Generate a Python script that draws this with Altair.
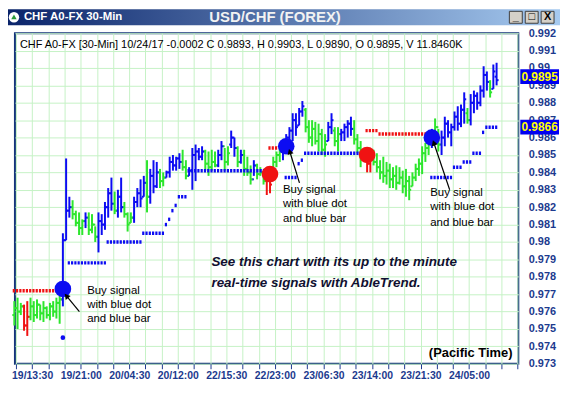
import math
import pandas as pd
import altair as alt

# ---------------- data ----------------
FIRST_BAR = -5
tick_labels = ["19/13:30", "19/21:00", "20/04:30", "20/12:00", "22/15:30",
               "22/23:00", "23/06:30", "23/14:00", "23/21:30", "24/05:00"]
y_ticks = [0.973, 0.974, 0.975, 0.976, 0.977, 0.978, 0.979, 0.98, 0.981, 0.982,
           0.983, 0.984, 0.985, 0.986, 0.987, 0.988, 0.989, 0.99, 0.991, 0.992]

highs = [.9766, .9768, .9765, .9764, .9766, .9768, .9766, .9767, .9764, .9766,
         .9763, .9765, .9766, .9768, .9769, .9805, .9848, .9826, .9824, .9818,
         .9817, .9813, .9817, .9817, .9816, .9809, .9817, .9816, .9823, .9831,
         .9837, .9829, .9830, .9837, .9823, .9817, .9817, .9826, .9831, .9836,
         .9838, .9847, .9842, .9847, .9846, .9842, .9840, .9841, .9849, .9850,
         .9849, .9851, .9853, .9847, .9843, .9854, .9856, .9854, .9855, .9853,
         .9852, .9853, .9852, .9853, .9858, .9854, .9855, .9864, .9860, .9855,
         .9853, .9853, .9849, .9844, .9847, .9845, .9843, .9840, .9843, .9838,
         .9849, .9852, .9855, .9858, .9862, .9866, .9874, .9874, .9877, .9881,
         .9877, .9870, .9870, .9869, .9868, .9865, .9862, .9869, .9874, .9866,
         .9866, .9865, .9868, .9870, .9872, .9870, .9862, .9858, .9854, .9853,
         .9852, .9853, .9851, .9847, .9849, .9846, .9845, .9843, .9844, .9843,
         .9841, .9842, .9838, .9840, .9845, .9848, .9855, .9857, .9863, .9865,
         .9871, .9865, .9864, .9872, .9870, .9868, .9875, .9878, .9879, .9886,
         .9877, .9885, .9887, .9886, .9890, .9901, .9898, .9893, .9902, .9903]

lows = [.9752, .9750, .9758, .9749, .9746, .9755, .9754, .9756, .9755, .9754,
        .9756, .9755, .9757, .9756, .9753, .9763, .9801, .9814, .9813, .9809,
        .9804, .9804, .9808, .9804, .9805, .9800, .9794, .9804, .9807, .9814,
        .9818, .9816, .9814, .9817, .9814, .9806, .9811, .9811, .9820, .9820,
        .9826, .9817, .9822, .9828, .9831, .9831, .9832, .9837, .9837, .9841,
        .9841, .9842, .9841, .9836, .9838, .9830, .9835, .9847, .9847, .9841,
        .9838, .9841, .9843, .9843, .9847, .9841, .9844, .9854, .9849, .9843,
        .9845, .9838, .9838, .9833, .9838, .9836, .9838, .9833, .9827, .9828,
        .9838, .9843, .9846, .9847, .9852, .9855, .9858, .9861, .9867, .9872,
        .9863, .9857, .9855, .9856, .9852, .9850, .9849, .9858, .9862, .9855,
        .9852, .9858, .9858, .9860, .9861, .9856, .9851, .9843, .9846, .9840,
        .9840, .9844, .9840, .9836, .9834, .9833, .9831, .9831, .9830, .9833,
        .9828, .9826, .9824, .9832, .9835, .9838, .9839, .9846, .9850, .9854,
        .9859, .9852, .9850, .9855, .9860, .9855, .9864, .9864, .9866, .9868,
        .9868, .9867, .9874, .9876, .9878, .9883, .9887, .9883, .9888, .9890]

opens = [.9758, .9762, .9760, .9763, .9752, .9757, .9763, .9758, .9764, .9759,
         .9762, .9758, .9763, .9760, .9765, .9767, .9801, .9818, .9820, .9816,
         .9811, .9808, .9812, .9814, .9807, .9810, .9803, .9812, .9810, .9820,
         .9828, .9822, .9818, .9826, .9820, .9816, .9811, .9814, .9823, .9828,
         .9826, .9834, .9826, .9838, .9832, .9840, .9835, .9837, .9840, .9846,
         .9844, .9848, .9846, .9843, .9838, .9841, .9850, .9852, .9849, .9852,
         .9845, .9843, .9846, .9844, .9850, .9855, .9846, .9856, .9860, .9854,
         .9846, .9850, .9842, .9840, .9836, .9844, .9839, .9840, .9835, .9838,
         .9838, .9846, .9850, .9853, .9856, .9860, .9864, .9870, .9867, .9875,
         .9876, .9866, .9860, .9865, .9858, .9862, .9853, .9858, .9866, .9864,
         .9858, .9862, .9863, .9866, .9868, .9865, .9859, .9854, .9848, .9851,
         .9845, .9849, .9846, .9843, .9840, .9838, .9841, .9836, .9838, .9834,
         .9837, .9832, .9835, .9832, .9837, .9842, .9845, .9851, .9854, .9858,
         .9862, .9866, .9856, .9860, .9868, .9863, .9866, .9872, .9868, .9876,
         .9874, .9870, .9880, .9884, .9880, .9887, .9896, .9892, .9888, .9895]

closes = [.9762, .9760, .9763, .9752, .9757, .9763, .9758, .9764, .9759, .9762,
          .9758, .9763, .9760, .9765, .9767, .9801, .9818, .9820, .9816, .9811,
          .9808, .9812, .9814, .9807, .9810, .9803, .9812, .9810, .9820, .9828,
          .9822, .9818, .9826, .9820, .9816, .9810, .9814, .9823, .9828, .9825,
          .9834, .9826, .9838, .9832, .9840, .9835, .9837, .9840, .9846, .9844,
          .9848, .9846, .9843, .9838, .9841, .9850, .9852, .9849, .9852, .9845,
          .9843, .9846, .9844, .9850, .9855, .9846, .9851, .9860, .9854, .9846,
          .9850, .9842, .9840, .9836, .9844, .9839, .9840, .9835, .9838, .9833,
          .9846, .9850, .9853, .9856, .9860, .9864, .9870, .9866, .9875, .9878,
          .9866, .9860, .9865, .9858, .9862, .9853, .9856, .9866, .9870, .9858,
          .9862, .9863, .9866, .9868, .9865, .9859, .9854, .9848, .9851, .9845,
          .9849, .9846, .9843, .9840, .9838, .9841, .9836, .9838, .9834, .9837,
          .9832, .9835, .9830, .9837, .9842, .9845, .9851, .9854, .9858, .9862,
          .9866, .9856, .9860, .9868, .9863, .9866, .9872, .9868, .9876, .9882,
          .9870, .9880, .9884, .9880, .9887, .9896, .9892, .9886, .9898, .9893]

bar_colors = list("GGGRRGGGGG" "GGGGGBBBGG" "GGBGGGBBBB" "BGBBGGGBBB" "BGBBBGGBBB"
                  "BBGGBBBBBG" "GGGBBGGBBG" "BGGGBGGGRR" "GGGBBBBBBB" "GGGGGGGBBG"
                  "GBBBBGGGRR" "RGGGGGGGGG" "GGGGGGGGGB" "GGBBBBBBBB" "GBBBBBBGBB")

# trend-stop dotted segments
seg_start = [12, 24, 35, 42, 43, 44, 45, 46, 49, 79, 83, 84, 85, 124, 131, 134, 137, 140, 141,
             -5, 74, 104, 108]
seg_end = [23, 34, 41, 42, 43, 44, 45, 48, 73, 82, 83, 84, 103, 130, 133, 136, 139, 140, 144,
           8, 76, 107, 122]
seg_level = [.9788, .9800, .9805, .9810, .9813, .9818, .9821, .9826, .9841, .9837, .9845, .9847,
             .9851, .9837, .9843, .9846, .9851, .9863, .9866,
             .9772, .9854, .9864, .9862]
seg_color = list("BBBBBBBBBBBBBBBBBBB" "RRRR")

# signal dots
sig_i = [10, 74, 79, 104, 124]
sig_price = [.9773, .9839, .9855, .9850, .9860]
sig_color = ["B", "R", "B", "R", "B"]
small_dot_i = [10]
small_dot_price = [.9745]

# highlighted price labels
flag_values = [0.9895, 0.9866]

# annotations
ann_lines = ["Buy signal", "with blue dot", "and blue bar"]
ann_x = [17.5, 78.0, 123.5]
ann_y = [[.9772, .9764, .9756], [.9830, .9822, .9813], [.9828, .9820, .9811]]
arr_x1 = [15.1, 83.1, 129.5]
arr_y1 = [.9760, .9834, .9830]
arr_x2 = [11.1, 80.1, 124.6]
arr_y2 = [.9769, .9852, .9857]
promo_lines = ["See this chart with its up to the minute", "real-time signals with AbleTrend."]
promo_x = 55.9
promo_y = [.97882, .97762]
tz_text = "(Pacific Time)"
tz_x, tz_y = 148.9, .97363
header_text = "CHF A0-FX [30-Min] 10/24/17  -0.0002 C 0.9893, H 0.9903, L 0.9890, O 0.9895, V 11.8460K"
buttons = ["_", "□", "X"]

# ---------------- styling ----------------
FONT = "Liberation Sans"
GREEN, BLUE, RED = "#2de62d", "#0c0cf2", "#f01212"
NAVY = "#1c3a8e"
GRID = "#c6f2c6"
PX_PER_BAR = 3.26
PX_PER_UNIT = 333 / 0.019

xs = alt.Scale(domain=[-4.81, 150.71], nice=False, zero=False)
ys = alt.Scale(domain=[0.973, 0.992], nice=False, zero=False)
cs = alt.Scale(domain=["G", "B", "R"], range=[GREEN, BLUE, RED])

x_tick_vals = [-4.5 + 5 * k for k in range(32)]
expr = ""
for k, lab in enumerate(tick_labels):
    expr += f"datum.value == {0.5 + 15 * k} ? '{lab}' : "
expr += "''"

x_axis = alt.Axis(values=x_tick_vals, labelExpr=expr, title=None, grid=True, gridColor=GRID,
                  gridWidth=1, domain=False, ticks=True, tickSize=5, tickColor=NAVY,
                  labelColor=NAVY, labelFont=FONT, labelFontSize=10.5, labelFontWeight="bold",
                  labelPadding=2, labelFlush=False, labelOverlap=False)
y_axis = alt.Axis(orient="right", values=y_ticks, format=".3~f", title=None, grid=True,
                  gridColor=GRID, gridWidth=1, domain=False, ticks=False, labelColor=NAVY,
                  labelFont=FONT, labelFontSize=11, labelFontWeight="bold", labelPadding=10,
                  labelFlush=False, labelOverlap=False)


def X(field):
    return alt.X(field, scale=xs, axis=x_axis)


def Y(field):
    return alt.Y(field, scale=ys, axis=y_axis)


bars = pd.DataFrame({"i": list(range(FIRST_BAR, FIRST_BAR + len(highs))),
                     "h": highs, "l": lows, "o": opens, "c": closes, "col": bar_colors})

col_enc = alt.Color("col:N", scale=cs, legend=None)

hl = alt.Chart(bars).mark_rule(strokeWidth=2).encode(
    x=X("i:Q"), y=Y("l:Q"), y2="h:Q", color=col_enc)
open_t = alt.Chart(bars).transform_calculate(xa="datum.i - 0.62").mark_rule(strokeWidth=2).encode(
    x=X("xa:Q"), x2="i:Q", y=Y("o:Q"), color=col_enc)
close_t = alt.Chart(bars).transform_calculate(xb="datum.i + 0.62").mark_rule(strokeWidth=2).encode(
    x=X("i:Q"), x2="xb:Q", y=Y("c:Q"), color=col_enc)

segs = pd.DataFrame({"s": seg_start, "e": seg_end, "lvl": seg_level, "col": seg_color})
seg_layer = alt.Chart(segs).transform_calculate(
    xa="datum.s - 0.5", xb="datum.e + 0.5").mark_rule(strokeWidth=3.5, strokeDash=[2.2, 1.1]).encode(
    x=X("xa:Q"), x2="xb:Q", y=Y("lvl:Q"), color=col_enc)

sigs = pd.DataFrame({"i": sig_i, "p": sig_price, "col": sig_color})
sig_layer = alt.Chart(sigs).mark_circle(size=280, opacity=1).encode(
    x=X("i:Q"), y=Y("p:Q"), color=col_enc)
small = pd.DataFrame({"i": small_dot_i, "p": small_dot_price})
small_layer = alt.Chart(small).mark_circle(size=22, opacity=1, color=BLUE).encode(
    x=X("i:Q"), y=Y("p:Q"))

# annotations
ann_rows = []
for k in range(len(ann_x)):
    for j, t in enumerate(ann_lines):
        ann_rows.append({"x": ann_x[k], "y": ann_y[k][j], "t": t})
ann_df = pd.DataFrame(ann_rows)
ann_layer = alt.Chart(ann_df).mark_text(align="left", baseline="middle", font=FONT, fontSize=11.5,
                                        color="#000000").encode(
    x=X("x:Q"), y=Y("y:Q"), text="t:N")

arr_angle = []
for k in range(len(arr_x1)):
    dx = (arr_x2[k] - arr_x1[k]) * PX_PER_BAR
    dy = -(arr_y2[k] - arr_y1[k]) * PX_PER_UNIT
    arr_angle.append(math.degrees(math.atan2(dx, -dy)) % 360)
arr_df = pd.DataFrame({"x1": arr_x1, "y1": arr_y1, "x2": arr_x2, "y2": arr_y2, "ang": arr_angle})
arr_line = alt.Chart(arr_df).mark_rule(strokeWidth=1.2, color="#000000").encode(
    x=X("x1:Q"), y=Y("y1:Q"), x2="x2:Q", y2="y2:Q")
arr_head = alt.Chart(arr_df).mark_point(shape="triangle-up", filled=True, size=40, opacity=1,
                                        color="#000000").encode(
    x=X("x2:Q"), y=Y("y2:Q"), angle=alt.Angle("ang:Q", scale=None))

promo_df = pd.DataFrame({"x": [promo_x] * len(promo_lines), "y": promo_y, "t": promo_lines})
promo_layer = alt.Chart(promo_df).mark_text(align="left", baseline="middle", font=FONT,
                                            fontSize=13.5, fontWeight="bold", fontStyle="italic",
                                            color="#101030").encode(
    x=X("x:Q"), y=Y("y:Q"), text="t:N")
tz_df = pd.DataFrame({"x": [tz_x], "y": [tz_y], "t": [tz_text]})
tz_layer = alt.Chart(tz_df).mark_text(align="right", baseline="middle", font=FONT, fontSize=13,
                                      fontWeight="bold", color="#000000").encode(
    x=X("x:Q"), y=Y("y:Q"), text="t:N")

# highlighted price flags on the right axis
flag_df = pd.DataFrame({"v": flag_values, "t": [f"{v:.4f}" for v in flag_values]})
flag_rect = alt.Chart(flag_df).transform_calculate(
    lo="datum.v - 0.00042", hi="datum.v + 0.00042").mark_rect(color="#0000f0").encode(
    x=alt.value(509), x2=alt.value(548), y=Y("lo:Q"), y2="hi:Q")
flag_text = alt.Chart(flag_df).mark_text(align="center", baseline="middle", font=FONT, fontSize=12,
                                         fontWeight="bold", color="#ffff00").encode(
    x=alt.value(528.5), y=Y("v:Q"), text="t:N")

# window chrome
one = pd.DataFrame({"k": [0]})
grad = alt.LinearGradient(gradient="linear",
                          stops=[alt.GradientStop(offset=0, color="#0a246a"),
                                 alt.GradientStop(offset=1, color="#a6caf0")],
                          x1=0, x2=1, y1=0, y2=0)
title_bar = alt.Chart(one).mark_rect(fill=grad).encode(
    x=alt.value(-7), x2=alt.value(549), y=alt.value(-24), y2=alt.value(-8))
icon = alt.Chart(one).mark_point(shape="circle", filled=True, size=110, color="#ffffff", opacity=1).encode(
    x=alt.value(-1), y=alt.value(-16))
icon_tri = alt.Chart(one).mark_point(shape="triangle-up", filled=True, size=30, color="#2a9a3a",
                                     opacity=1).encode(x=alt.value(-1), y=alt.value(-16.5))
win_title = alt.Chart(one).mark_text(align="left", baseline="middle", font=FONT, fontSize=11.5,
                                     fontWeight="bold", color="#ffffff").encode(
    x=alt.value(9), y=alt.value(-16), text=alt.value("CHF A0-FX 30-Min"))
win_main = alt.Chart(one).mark_text(align="center", baseline="middle", font=FONT, fontSize=15,
                                    fontWeight="bold", color="#f2f2f2").encode(
    x=alt.value(262), y=alt.value(-16), text=alt.value("USD/CHF (FOREX)"))
btn_layers = []
for k, glyph in enumerate(buttons):
    left = 498 + 16 * k
    btn_layers.append(alt.Chart(one).mark_rect(fill="#d4d0c8", stroke="#404040", strokeWidth=1).encode(
        x=alt.value(left), x2=alt.value(left + 13), y=alt.value(-22), y2=alt.value(-10)))
    btn_layers.append(alt.Chart(one).mark_text(align="center", baseline="middle", font=FONT,
                                               fontSize=11, fontWeight="bold", color="#000000").encode(
        x=alt.value(left + 6.5), y=alt.value(-16), text=alt.value(glyph)))
header = alt.Chart(one).mark_text(align="left", baseline="middle", font=FONT, fontSize=11,
                                  color="#000000").encode(
    x=alt.value(5), y=alt.value(12), text=alt.value(header_text))

chart = alt.layer(
    hl, open_t, close_t, seg_layer, small_layer, sig_layer,
    arr_line, arr_head, ann_layer, promo_layer, tz_layer, header,
    flag_rect, flag_text,
    title_bar, icon, icon_tri, win_title, win_main, *btn_layers,
).properties(
    width=507, height=333,
    padding={"left": 7, "top": 24, "right": 42, "bottom": 19},
    autosize=alt.AutoSizeParams(type="none"),
    background="#ffffff",
).configure_view(stroke="#14357a", strokeWidth=2)

chart.save("out.html", embed_options={"renderer": "svg", "actions": False})
